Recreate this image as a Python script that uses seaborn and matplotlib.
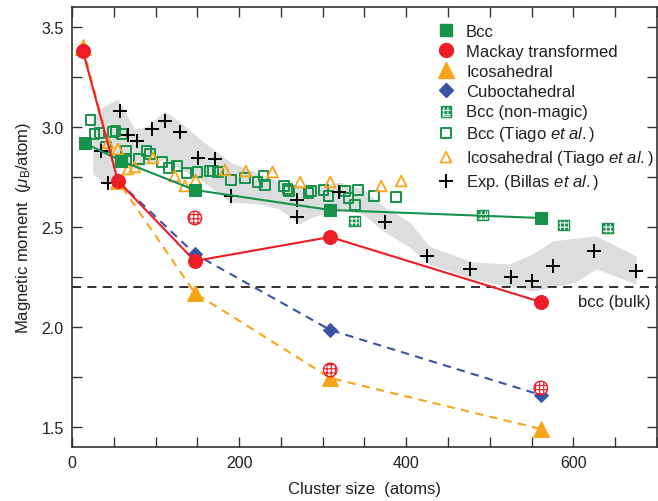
import matplotlib
matplotlib.use("Agg")
import matplotlib.pyplot as plt
from matplotlib.lines import Line2D
from matplotlib.ticker import MultipleLocator, FixedLocator
import seaborn as sns

# magic-size calculations (cluster size in atoms, moment in mu_B/atom)
bcc_n = [15, 59, 147, 309, 561]
bcc_m = [2.92, 2.83, 2.685, 2.585, 2.545]
mackay_n = [13, 55, 147, 309, 561]
mackay_m = [3.38, 2.73, 2.33, 2.45, 2.125]
ico_n = [13, 55, 147, 309, 561]
ico_m = [3.40, 2.73, 2.17, 1.745, 1.49]
cubo_n = [55, 147, 309, 561]
cubo_m = [2.73, 2.365, 1.985, 1.66]
mackay_alt_n = [147, 309, 561]
mackay_alt_m = [2.545, 1.785, 1.695]

# bcc non-magic sizes
bccnm_n = [338, 491, 588, 641]
bccnm_m = [2.53, 2.56, 2.51, 2.495]

# Tiago et al.
tiago_bcc_n = [22, 27, 33, 41, 49, 52, 60, 65, 65, 80, 89, 93, 108, 116, 126, 137,
               150, 165, 169, 175, 190, 207, 222, 229, 231, 254, 258, 260, 283,
               286, 301, 307, 327, 331, 339, 342, 361, 388]
tiago_bcc_m = [3.035, 2.965, 2.97, 2.90, 2.975, 2.98, 2.965, 2.88, 2.84, 2.84, 2.88,
               2.865, 2.825, 2.795, 2.805, 2.77, 2.775, 2.78, 2.78, 2.775, 2.735,
               2.745, 2.725, 2.755, 2.71, 2.705, 2.69, 2.68, 2.67, 2.68, 2.685,
               2.655, 2.68, 2.645, 2.61, 2.685, 2.655, 2.65]
tiago_ico_n = [43, 55, 67, 75, 97, 123, 135, 148, 183, 208, 240, 273, 309, 370, 394]
tiago_ico_m = [2.92, 2.89, 2.79, 2.80, 2.845, 2.755, 2.705, 2.735, 2.785, 2.78,
               2.775, 2.725, 2.725, 2.705, 2.73]

# experiment (Billas et al.) and its uncertainty band
exp_n = [35, 43, 57, 67, 78, 96, 111, 129, 151, 171, 190, 269, 269, 319, 374,
         425, 476, 525, 550, 575, 625, 675]
exp_m = [2.88, 2.72, 3.08, 2.96, 2.93, 2.99, 3.03, 2.975, 2.845, 2.84, 2.655,
         2.635, 2.55, 2.675, 2.525, 2.357, 2.29, 2.252, 2.228, 2.307, 2.378, 2.278]
band_n = [25, 33, 43, 55, 75, 90, 111, 129, 153, 189, 225, 248, 272, 288, 320,
          348, 372, 404, 427, 479, 523, 551, 575, 603, 627, 675]
band_lo = [2.765, 2.74, 2.70, 2.80, 2.79, 2.815, 2.84, 2.79, 2.74, 2.625, 2.615,
           2.59, 2.515, 2.55, 2.59, 2.565, 2.48, 2.40, 2.315, 2.24, 2.205, 2.18,
           2.20, 2.225, 2.29, 2.215]
band_hi = [3.04, 3.09, 3.115, 3.14, 2.99, 3.005, 3.08, 3.025, 2.94, 2.825, 2.765,
           2.725, 2.71, 2.70, 2.725, 2.69, 2.605, 2.525, 2.405, 2.325, 2.315, 2.365,
           2.43, 2.445, 2.455, 2.355]
bulk_m = 2.2

green = "#16924a"
red = "#ee1c25"
orange = "#f9a51a"
blue = "#3a53a4"
ink = "#231f20"

sns.set_style("ticks")
plt.rcParams["font.family"] = ["Liberation Sans", "DejaVu Sans"]
plt.rcParams["mathtext.fontset"] = "custom"
plt.rcParams["mathtext.rm"] = "Liberation Sans"
plt.rcParams["mathtext.it"] = "Liberation Sans:italic"
plt.rcParams["hatch.linewidth"] = 0.8

fig = plt.figure(figsize=(6.58, 5.02), dpi=100)
ax = fig.add_axes([0.1094, 0.1076, 0.8891, 0.8765])

ax.fill_between(band_n, band_lo, band_hi, color="#dcdddf", lw=0, zorder=0)
ax.axhline(bulk_m, color="#231f20", lw=1.3, ls=(0, (5, 3.5)), zorder=1)
ax.text(692, 2.125, "bcc (bulk)", ha="right", va="center", fontsize=12, color=ink)

# open symbols and experiment
sns.scatterplot(x=tiago_bcc_n, y=tiago_bcc_m, ax=ax, marker="s", s=48,
                facecolors="none", edgecolor=green, linewidth=1.4, zorder=3)
tiago_bcc_h = ax.collections[-1]
sns.scatterplot(x=tiago_ico_n, y=tiago_ico_m, ax=ax, marker="^", s=60,
                facecolors="none", edgecolor=orange, linewidth=1.3, zorder=3)
tiago_ico_h = ax.collections[-1]
sns.scatterplot(x=exp_n, y=exp_m, ax=ax, marker="+", s=90, color="k",
                linewidth=1.4, zorder=4)
exp_h = ax.collections[-1]

# hatched symbols: green fill, white grid, green outline
sns.scatterplot(x=bccnm_n, y=bccnm_m, ax=ax, marker="s", s=60, color=green,
                edgecolor=green, linewidth=0, zorder=4)
nm_fill = ax.collections[-1]
plt.rcParams["hatch.color"] = "white"
sns.scatterplot(x=bccnm_n, y=bccnm_m, ax=ax, marker="s", s=60, facecolors="none",
                edgecolor="white", linewidth=0, hatch="++++", zorder=4)
nm_grid = ax.collections[-1]
sns.scatterplot(x=bccnm_n, y=bccnm_m, ax=ax, marker="s", s=60, facecolors="none",
                edgecolor=green, linewidth=1.0, zorder=4)
nm_edge = ax.collections[-1]
plt.rcParams["hatch.color"] = red
sns.scatterplot(x=mackay_alt_n, y=mackay_alt_m, ax=ax, marker="o", s=95,
                color="white", edgecolor=red, linewidth=1.0, hatch="++++", zorder=6)

# calculated magic-size series
sns.lineplot(x=bcc_n, y=bcc_m, ax=ax, color=green, lw=1.5, marker="s",
             markersize=9, markeredgecolor=green, zorder=5)
sns.lineplot(x=ico_n, y=ico_m, ax=ax, color=orange, lw=1.5, ls=(0, (4, 3)),
             marker="^", markersize=11, markeredgecolor=orange, zorder=5)
sns.lineplot(x=cubo_n, y=cubo_m, ax=ax, color=blue, lw=1.5, ls=(0, (4, 3)),
             marker="D", markersize=7.5, markeredgecolor=blue, zorder=5)
sns.lineplot(x=mackay_n, y=mackay_m, ax=ax, color=red, lw=1.5, marker="o",
             markersize=10, markeredgecolor=red, zorder=6)

ax.set_xlim(0, 700)
ax.set_ylim(1.4, 3.6)
ax.xaxis.set_major_locator(FixedLocator([0, 200, 400, 600]))
ax.xaxis.set_minor_locator(MultipleLocator(50))
ax.yaxis.set_major_locator(MultipleLocator(0.5))
ax.yaxis.set_minor_locator(MultipleLocator(0.25))
ax.tick_params(which="both", direction="in", top=True, right=True, length=7,
               width=1.0, color="#333333", labelsize=11.5, labelcolor=ink, pad=6)
for s in ax.spines.values():
    s.set_linewidth(1.2)
    s.set_color("#333333")

ax.set_xlabel("Cluster size  (atoms)", fontsize=12, color=ink, labelpad=8)
ax.set_ylabel(r"Magnetic moment  ($\mu_{\rm B}$/atom)", fontsize=12, color=ink,
              labelpad=6)

handles = [
    Line2D([], [], ls="none", marker="s", ms=8, color=green),
    Line2D([], [], ls="none", marker="o", ms=10, color=red),
    Line2D([], [], ls="none", marker="^", ms=11, color=orange),
    Line2D([], [], ls="none", marker="D", ms=7.5, color=blue),
    (nm_fill, nm_grid, nm_edge), tiago_bcc_h, tiago_ico_h, exp_h,
]
labels = ["Bcc", "Mackay transformed", "Icosahedral", "Cuboctahedral",
          "Bcc (non-magic)", r"Bcc (Tiago $\it{et\ al.}$)",
          r"Icosahedral (Tiago $\it{et\ al.}$)", r"Exp. (Billas $\it{et\ al.}$)"]
ax.legend(handles, labels, loc="upper right", bbox_to_anchor=(1.0, 0.97),
          frameon=False, fontsize=12, labelcolor=ink, handlelength=1.2,
          handletextpad=0.6, labelspacing=0.3, borderaxespad=0.0,
          borderpad=0.2, scatterpoints=1)

fig.savefig("out.png", dpi=100)
